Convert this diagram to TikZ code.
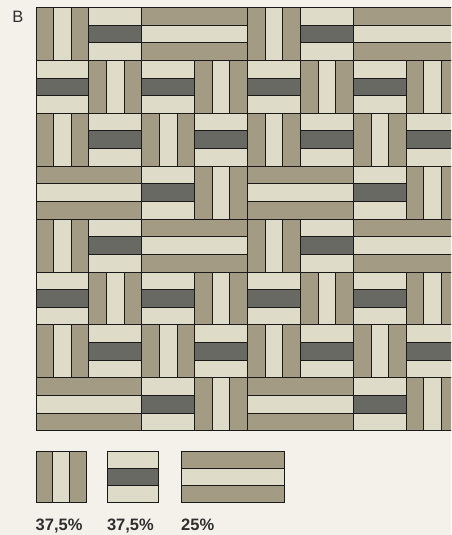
\documentclass[tikz,border=0pt]{standalone}
\usepackage{fontspec}
\setmainfont{Liberation Sans}
\definecolor{bgcol}{HTML}{F4F1EB}
\definecolor{tilebrown}{HTML}{A39B83}
\definecolor{tilelight}{HTML}{DEDBC8}
\definecolor{tiledark}{HTML}{686963}
\definecolor{edgecol}{HTML}{1A1A1A}
\definecolor{textcol}{HTML}{2E2E2E}
\tikzset{
  x=1pt, y=-1pt,
  strip/.style={draw=edgecol, line width=1pt},
  pct/.style={anchor=base west, inner sep=0pt, text=textcol, font=\fontsize{16.5}{18}\selectfont\bfseries},
}
\newcommand\cs{52.9}
\newcommand\tileV[2]{%
  \foreach \k/\cl in {0/tilebrown,1/tilelight,2/tilebrown}{
    \filldraw[strip, fill=\cl] ({36+#1*\cs+\k*\cs/3},{7.5+#2*\cs}) rectangle ++(\cs/3,\cs);
  }}
\newcommand\tileH[2]{%
  \foreach \k/\cl in {0/tilelight,1/tiledark,2/tilelight}{
    \filldraw[strip, fill=\cl] ({36+#1*\cs},{7.5+#2*\cs+\k*\cs/3}) rectangle ++(\cs,\cs/3);
  }}
\newcommand\tileL[2]{%
  \foreach \k/\cl in {0/tilebrown,1/tilelight,2/tilebrown}{
    \filldraw[strip, fill=\cl] ({36+#1*\cs},{7.5+#2*\cs+\k*\cs/3}) rectangle ++(2*\cs,\cs/3);
  }}
\begin{document}
\begin{tikzpicture}
\fill[bgcol] (0,0) rectangle (451,535);
\useasboundingbox (0,0) rectangle (451,535);
\begin{scope}
\clip (0,0) rectangle (451,535);
\foreach \r in {0,4}{
  \tileV{0}{\r} \tileH{1}{\r} \tileL{2}{\r}
  \tileV{4}{\r} \tileH{5}{\r} \tileL{6}{\r}
}
\foreach \r in {1,5}{
  \foreach \c in {0,2,4,6}{\tileH{\c}{\r}}
  \foreach \c in {1,3,5,7}{\tileV{\c}{\r}}
}
\foreach \r in {2,6}{
  \foreach \c in {0,2,4,6}{\tileV{\c}{\r}}
  \foreach \c in {1,3,5,7}{\tileH{\c}{\r}}
}
\foreach \r in {3,7}{
  \tileL{0}{\r} \tileH{2}{\r} \tileV{3}{\r}
  \tileL{4}{\r} \tileH{6}{\r} \tileV{7}{\r}
}
\end{scope}
% legend
\foreach \k/\cl in {0/tilebrown,1/tilelight,2/tilebrown}{
  \filldraw[strip, fill=\cl] ({36+\k*50/3},451) rectangle ++(50/3,51);
}
\foreach \k/\cl in {0/tilelight,1/tiledark,2/tilelight}{
  \filldraw[strip, fill=\cl] (107.3,{451+\k*17}) rectangle ++(51.3,17);
}
\foreach \k/\cl in {0/tilebrown,1/tilelight,2/tilebrown}{
  \filldraw[strip, fill=\cl] (181.3,{451.3+\k*17.13}) rectangle ++(103.4,17.13);
}
\node[anchor=base west, inner sep=0pt, text=textcol, font=\fontsize{16.5}{18}\selectfont] (lblB) at (12.3,22.7) {B};
\node[pct] (p1) at (35.5,530) {37,5\%};
\node[pct] (p2) at (106.8,530) {37,5\%};
\node[pct] (p3) at (181,530) {25\%};
\end{tikzpicture}
\end{document}
